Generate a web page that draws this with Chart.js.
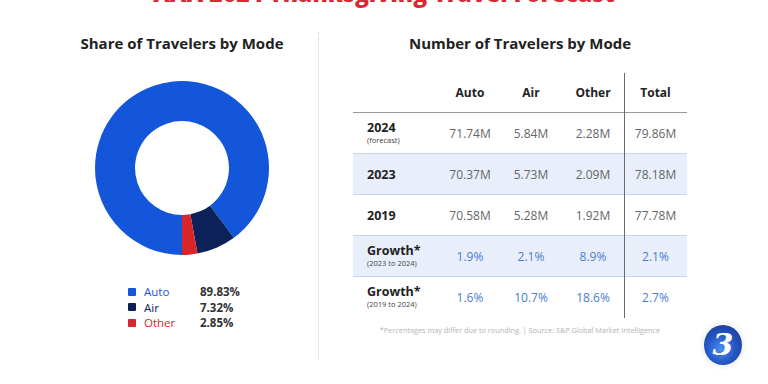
<!DOCTYPE html>
<html lang="en">
<head>
<meta charset="UTF-8">
<title>AAA 2024 Thanksgiving Travel Forecast</title>
<script src="https://cdn.jsdelivr.net/npm/chart.js"></script>
<style>
  body { margin: 0; width: 768px; height: 384px; background: #fff; position: relative; overflow: hidden;
         font-family: "Open Sans", "DejaVu Sans", sans-serif; }
  .abs { position: absolute; }
  #title { left: 0; width: 768px; top: -22px; text-align: center; font-size: 23px; font-weight: 800; color: #d92a32; line-height: 30px; }
  .sub { top: 33px; font-size: 15px; font-weight: 700; color: #222; text-align: center; }
  #divider { left: 318px; top: 32px; height: 328px; border-left: 1px dotted #cfcfcf; }
  #legend div { height: 15.5px; font-size: 11.5px; line-height: 15.5px; display: flex; align-items: center; }
  #legend .sw { width: 8px; height: 8px; margin-right: 8px; border-radius: 1px; }
  #legend .lab { width: 56px; }
  #legend .val { font-weight: 700; color: #333; }
  table { border-collapse: collapse; left: 353px; top: 73px; table-layout: fixed; }
  td { padding: 0; text-align: center; font-size: 12px; color: #666; }
  td.lab { text-align: left; padding-left: 14px; color: #222; font-weight: 700; font-size: 12.5px; line-height: 15px; }
  td.lab small { display: block; font-size: 7.5px; font-weight: 400; color: #444; line-height: 11px; }
  tr.head td { font-weight: 700; color: #222; height: 39px; border-bottom: 1px solid #9a9a9a; }
  tr.row td { height: 40px; border-bottom: 1px solid #c9d5ec; }
  tr.row:last-child td { border-bottom: none; }
  tr.shade td { background: #e9effa; }
  tr.growth td.v { color: #4c7bd0; }
  #vline { left: 624px; top: 73px; height: 245px; border-left: 1px solid #6a6a6a; }
  #note { left: 353px; width: 334px; top: 325px; text-align: center; font-size: 7.3px; color: #b3b3b3; }
  #logo { left: 704px; top: 325px; width: 38px; height: 40px; border-radius: 50%;
          background: radial-gradient(circle at 45% 60%, #4d8cf5 0%, #2456c4 45%, #1b2f80 100%);
          box-shadow: 0 0 4px 3px #f2f2f2; color: #fff; font-family: "DejaVu Serif", serif; font-weight: 700;
          font-size: 30px; line-height: 40px; text-align: center; font-style: italic; }
</style>
</head>
<body>
<div id="title" class="abs">AAA 2024 Thanksgiving Travel Forecast</div>
<div class="abs sub" style="left:72px;width:220px;">Share of Travelers by Mode</div>
<div class="abs sub" style="left:400px;width:240px;">Number of Travelers by Mode</div>
<div id="divider" class="abs"></div>

<canvas id="shareChart" class="abs" width="174" height="174" style="left:95px;top:81px;"></canvas>
<div id="legend" class="abs" style="left:128px;top:284px;"></div>

<table id="tbl" class="abs"></table>
<div id="vline" class="abs"></div>
<div id="note" class="abs">*Percentages may differ due to rounding. | Source: S&amp;P Global Market Intelligence</div>
<div id="logo" class="abs">3</div>

<script>
  // share of travelers
  const modes = ['Auto', 'Air', 'Other'];
  const shares = [89.83, 7.32, 2.85];
  const modeColors = ['#1456da', '#0b2157', '#d8262c'];

  // table data
  const columns = ['Auto', 'Air', 'Other', 'Total'];
  const rowLabels = ['2024', '2023', '2019', 'Growth*', 'Growth*'];
  const rowNotes = ['(forecast)', '', '', '(2023 to 2024)', '(2019 to 2024)'];
  const autoVals = ['71.74M', '70.37M', '70.58M', '1.9%', '1.6%'];
  const airVals = ['5.84M', '5.73M', '5.28M', '2.1%', '10.7%'];
  const otherVals = ['2.28M', '2.09M', '1.92M', '8.9%', '18.6%'];
  const totalVals = ['79.86M', '78.18M', '77.78M', '2.1%', '2.7%'];

  new Chart(document.getElementById('shareChart'), {
    type: 'doughnut',
    data: {
      labels: modes,
      datasets: [{
        data: shares,
        backgroundColor: modeColors,
        borderWidth: 0
      }]
    },
    options: {
      responsive: false,
      animation: false,
      rotation: 180,
      cutout: '54%',
      layout: { padding: 0 },
      plugins: { legend: { display: false }, tooltip: { enabled: false } }
    }
  });

  // legend
  const legend = document.getElementById('legend');
  modes.forEach((m, i) => {
    const d = document.createElement('div');
    d.innerHTML = '<span class="sw" style="background:' + modeColors[i] + '"></span>' +
      '<span class="lab" style="color:' + modeColors[i] + '">' + m + '</span>' +
      '<span class="val">' + shares[i].toFixed(2) + '%</span>';
    legend.appendChild(d);
  });

  // table
  const widths = [87, 60, 62, 62, 63];
  const tbl = document.getElementById('tbl');
  let html = '<colgroup>' + widths.map(w => '<col style="width:' + w + 'px">').join('') + '</colgroup>';
  html += '<tr class="head"><td></td>' + columns.map(c => '<td>' + c + '</td>').join('') + '</tr>';
  rowLabels.forEach((lab, i) => {
    let cls = 'row';
    if (i % 2 === 1) cls += ' shade';
    if (i >= 3) cls += ' growth';
    html += '<tr class="' + cls + '"><td class="lab">' + lab +
      (rowNotes[i] ? '<small>' + rowNotes[i] + '</small>' : '') + '</td>' +
      [autoVals[i], airVals[i], otherVals[i], totalVals[i]].map(v => '<td class="v">' + v + '</td>').join('') +
      '</tr>';
  });
  tbl.innerHTML = html;
</script>
</body>
</html>
